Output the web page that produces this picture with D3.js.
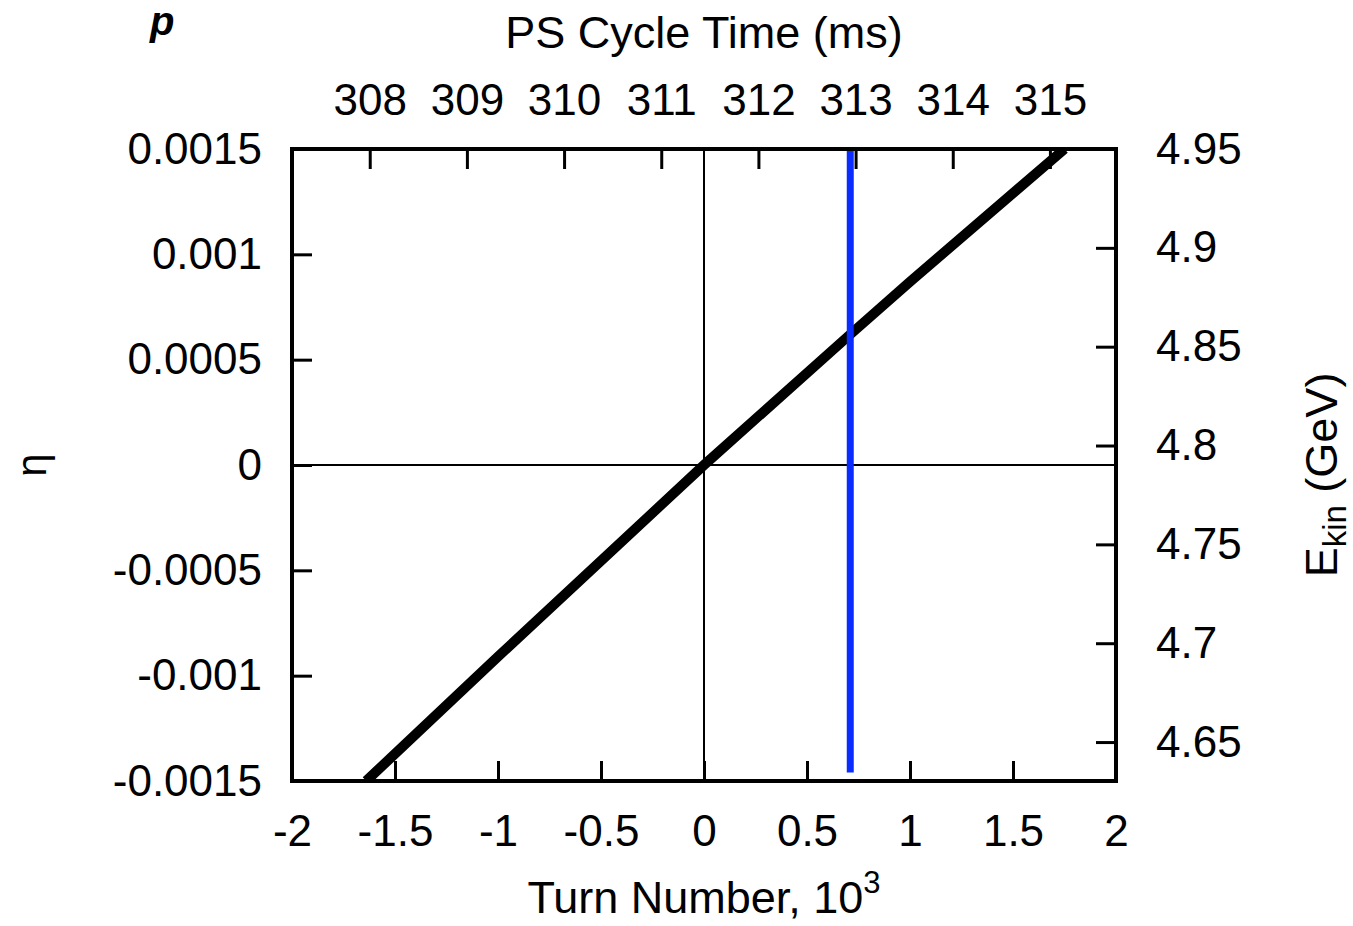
<!DOCTYPE html>
<html>
<head>
<meta charset="utf-8">
<script src="https://cdn.jsdelivr.net/npm/d3@7"></script>
<style>
  html, body { margin: 0; padding: 0; background: #fff; }
  svg { display: block; }
  text { font-family: "Liberation Sans", Arial, sans-serif; fill: #000; }
</style>
</head>
<body>
<svg id="chart" width="1353" height="926"></svg>
<script>
// Slip factor eta versus turn number around transition crossing
const turnNumbers = [-1.64, -1.0, 0.0, 0.71, 1.0, 1.75];
const etaValues = [-0.0015, -0.00091, 0.0, 0.00062, 0.00087, 0.0015];

// Marker turn (vertical line)
const markerTurn = 0.71;
const markerEta = [0.0015, -0.00146];

// Tick labels
const bottomTicks = [-2, -1.5, -1, -0.5, 0, 0.5, 1, 1.5, 2];
const leftTicks = [-0.0015, -0.001, -0.0005, 0, 0.0005, 0.001, 0.0015];
const leftTickLabels = ["-0.0015", "-0.001", "-0.0005", "0", "0.0005", "0.001", "0.0015"];
const topTicks = [308, 309, 310, 311, 312, 313, 314, 315];
const rightTicks = [4.65, 4.7, 4.75, 4.8, 4.85, 4.9, 4.95];
const rightTickLabels = ["4.65", "4.7", "4.75", "4.8", "4.85", "4.9", "4.95"];

const svg = d3.select("#chart");
const L = 292, R = 1116, T = 149, B = 781;

const x = d3.scaleLinear().domain([-2, 2]).range([L, R]);
const y = d3.scaleLinear().domain([-0.0015, 0.0015]).range([B, T]);
const xTop = d3.scaleLinear().domain([307.2, 315.68]).range([L, R]);
const yRight = d3.scaleLinear().domain([4.6303, 4.95]).range([B, T]);

const tickFont = 44;
const titleFont = 45;

function styleAxis(g) {
  g.select(".domain").remove();
  g.selectAll(".tick line").attr("stroke", "#000").attr("stroke-width", 3);
  g.selectAll(".tick text").attr("font-size", tickFont)
    .attr("font-family", "Liberation Sans, Arial, sans-serif").attr("fill", "#000");
}

// Zero lines
svg.append("line").attr("x1", x(0)).attr("x2", x(0)).attr("y1", T).attr("y2", B)
  .attr("stroke", "#000").attr("stroke-width", 2);
svg.append("line").attr("x1", L).attr("x2", R).attr("y1", y(0)).attr("y2", y(0))
  .attr("stroke", "#000").attr("stroke-width", 2);

// Bottom axis
svg.append("g").attr("transform", `translate(0,${B})`)
  .call(d3.axisBottom(x).tickValues(bottomTicks).tickSizeInner(-20).tickSizeOuter(0)
    .tickPadding(34).tickFormat(d => String(d)))
  .call(styleAxis)
  .call(g => g.selectAll(".tick").filter(d => d === -2 || d === 2).select("line").remove());

// Left axis
svg.append("g").attr("transform", `translate(${L},0)`)
  .call(d3.axisLeft(y).tickValues(leftTicks).tickSizeInner(-20).tickSizeOuter(0)
    .tickPadding(30).tickFormat((d, i) => leftTickLabels[i]))
  .call(styleAxis)
  .call(g => g.selectAll(".tick").filter(d => Math.abs(d) > 0.0014).select("line").remove());

// Top axis
svg.append("g").attr("transform", `translate(0,${T})`)
  .call(d3.axisTop(xTop).tickValues(topTicks).tickSizeInner(-20).tickSizeOuter(0)
    .tickPadding(34).tickFormat(d => String(d)))
  .call(styleAxis);

// Right axis
svg.append("g").attr("transform", `translate(${R},0)`)
  .call(d3.axisRight(yRight).tickValues(rightTicks).tickSizeInner(-20).tickSizeOuter(0)
    .tickPadding(40).tickFormat((d, i) => rightTickLabels[i]))
  .call(styleAxis)
  .call(g => g.selectAll(".tick").filter(d => d > 4.94).select("line").remove());

// Clip to plot frame
svg.append("clipPath").attr("id", "plotClip")
  .append("rect").attr("x", L).attr("y", T).attr("width", R - L).attr("height", B - T);

// Eta curve
const pts = turnNumbers.map((t, i) => [t, etaValues[i]]);
svg.append("path").datum(pts)
  .attr("clip-path", "url(#plotClip)")
  .attr("fill", "none").attr("stroke", "#000").attr("stroke-width", 10)
  .attr("stroke-linecap", "butt")
  .attr("d", d3.line().x(d => x(d[0])).y(d => y(d[1])).curve(d3.curveLinear));

// Marker line
svg.append("line")
  .attr("x1", x(markerTurn)).attr("x2", x(markerTurn))
  .attr("y1", y(markerEta[0])).attr("y2", y(markerEta[1]))
  .attr("stroke", "#0a2cff").attr("stroke-width", 7);

// Frame
svg.append("rect").attr("x", L).attr("y", T).attr("width", R - L).attr("height", B - T)
  .attr("fill", "none").attr("stroke", "#000").attr("stroke-width", 4);

// Axis titles
svg.append("text").attr("x", (L + R) / 2).attr("y", 48).attr("text-anchor", "middle")
  .attr("font-size", titleFont).text("PS Cycle Time (ms)");

const bt = svg.append("text").attr("x", (L + R) / 2).attr("y", 913).attr("text-anchor", "middle")
  .attr("font-size", titleFont);
bt.append("tspan").text("Turn Number, 10");
bt.append("tspan").attr("font-size", 31).attr("dy", -20).text("3");

svg.append("text").attr("transform", `translate(46,${y(0)}) rotate(-90)`)
  .attr("text-anchor", "middle").attr("font-size", 42)
  .attr("font-family", "DejaVu Sans, sans-serif").text("η");

const rt = svg.append("text").attr("transform", `translate(1337,475) rotate(-90)`)
  .attr("text-anchor", "middle").attr("font-size", titleFont);
rt.append("tspan").text("E");
rt.append("tspan").attr("font-size", 33).attr("dy", 9).text("kin");
rt.append("tspan").attr("dy", -9).text(" (GeV)");

// Beam label
svg.append("text").attr("x", 150).attr("y", 35)
  .attr("font-family", "DejaVu Serif, serif").attr("font-style", "italic").attr("font-weight", "bold")
  .attr("font-size", 40).attr("fill", "#5a3a12").text("p");
</script>
</body>
</html>
